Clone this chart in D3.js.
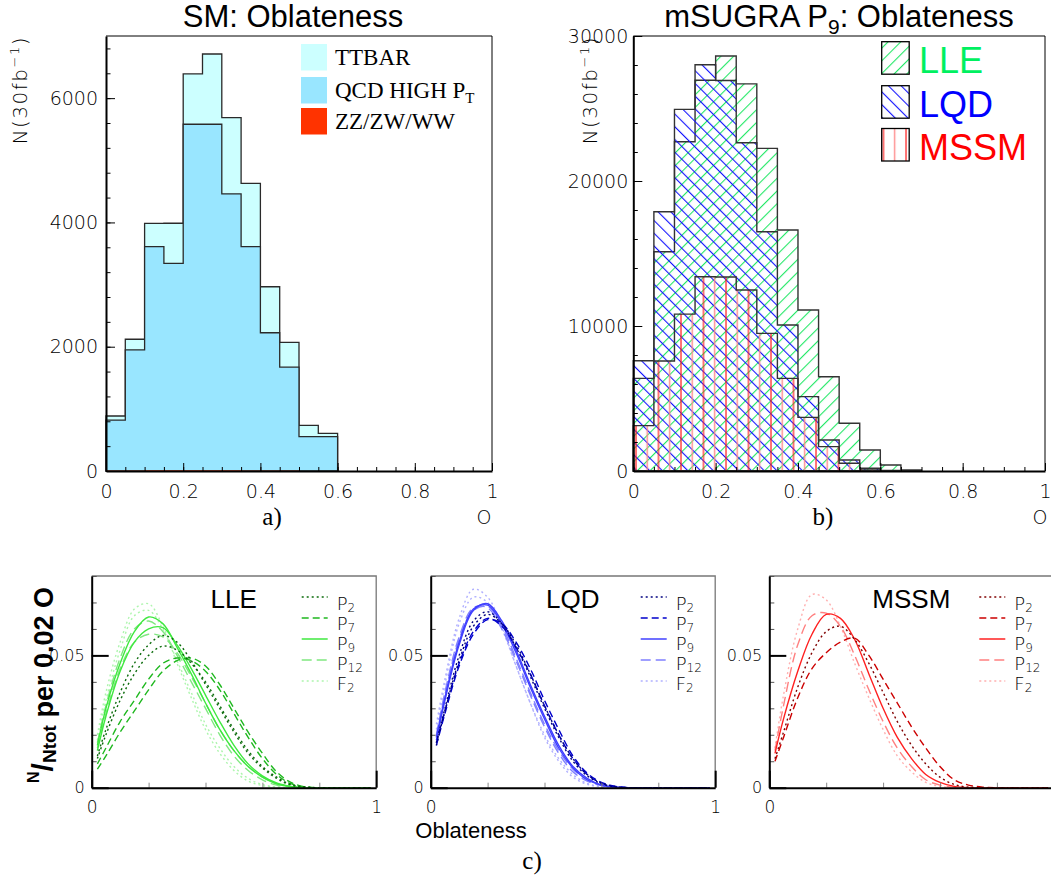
<!DOCTYPE html>
<html><head><meta charset="utf-8">
<script src="https://cdn.jsdelivr.net/npm/d3@7"></script>
<style>body{margin:0;background:#fff} svg{display:block}</style>
</head><body>
<svg id="c" width="1051" height="888"></svg>
<script>
// ---------------- DATA ----------------
const binLow = [0,0.05,0.1,0.15,0.2,0.25,0.3,0.35,0.4,0.45,0.5,0.55,0.6,0.65,0.7,0.75,0.8,0.85,0.9,0.95];
// a) SM stacked histogram (events per 30 fb^-1)
const smZZ    = [3,5,8,8,10,10,8,6,4,3,1,1,0,0,0,0,0,0,0,0];
const smQCD   = [817,1945,3602,3334,5570,5570,4452,3604,2221,1667,551,551,0,0,0,0,0,0,0,0];
const smTTBAR = [65,170,375,645,810,1130,1225,1020,740,400,183,54,0,0,0,0,0,0,0,0];
const smKeys  = ["ZZ/ZW/WW","QCD HIGH P","TTBAR"];
// b) mSUGRA P9 histograms
const lleHist  = [6390,15120,22710,26950,28620,26700,22250,16620,11100,6500,3290,1450,414,69,0,0,0,0,0,0];
const lqdHist  = [7600,17880,24940,28020,26930,22640,16500,10070,5130,2140,760,185,40,0,0,0,0,0,0,0];
const mssmHist = [3130,7590,10820,13400,13380,12480,9490,6390,3700,1680,530,130,25,0,0,0,0,0,0,0];
// tick labels
const tlYTicks = [0,2000,4000,6000];
const trYTicks = [0,10000,20000,30000];
const topXTicks = [0,0.2,0.4,0.6,0.8,1];
const botYTicks = [0,0.05];
const botXTicks = [0,1];
// c) normalised oblateness distributions
const oblX = [0.02,0.05,0.1,0.15,0.2,0.25,0.3,0.35,0.4,0.45,0.5,0.55,0.6,0.65,0.7,0.75,0.8,0.9,0.98];
const lleP2a  = [0.012,0.022,0.036,0.047,0.054,0.0575,0.055,0.048,0.039,0.030,0.021,0.013,0.0075,0.0035,0.001,0.0002,0,0,0];
const lleP2b  = [0.011,0.020,0.033,0.043,0.050,0.0535,0.052,0.047,0.040,0.031,0.022,0.014,0.008,0.004,0.0012,0.0003,0,0,0];
const lleP7a  = [0.007,0.012,0.021,0.029,0.037,0.044,0.048,0.049,0.046,0.039,0.030,0.021,0.013,0.006,0.002,0.0003,0,0,0];
const lleP7b  = [0.009,0.015,0.025,0.033,0.041,0.047,0.049,0.048,0.044,0.037,0.028,0.019,0.011,0.005,0.0015,0.0002,0,0,0];
const lleP9a  = [0.016,0.030,0.047,0.059,0.0645,0.062,0.053,0.043,0.032,0.022,0.014,0.008,0.004,0.0015,0.0004,0,0,0,0];
const lleP9b  = [0.014,0.027,0.044,0.055,0.060,0.0605,0.054,0.045,0.035,0.025,0.016,0.009,0.0045,0.0018,0.0005,0,0,0,0];
const lleP12a = [0.017,0.031,0.049,0.060,0.063,0.059,0.050,0.040,0.030,0.020,0.012,0.0065,0.003,0.001,0.0002,0,0,0,0];
const lleP12b = [0.015,0.028,0.045,0.055,0.058,0.057,0.051,0.042,0.032,0.022,0.014,0.008,0.004,0.0015,0.0003,0,0,0,0];
const lleF2a  = [0.020,0.036,0.055,0.0675,0.0695,0.061,0.047,0.034,0.022,0.013,0.0065,0.0025,0.0008,0.0002,0,0,0,0,0];
const lleF2b  = [0.018,0.033,0.052,0.065,0.067,0.060,0.048,0.036,0.024,0.015,0.008,0.0035,0.0012,0.0003,0,0,0,0,0];
const lqdP2a  = [0.017,0.030,0.050,0.063,0.0665,0.062,0.053,0.042,0.030,0.019,0.010,0.0045,0.0015,0.0003,0,0,0,0,0];
const lqdP2b  = [0.016,0.029,0.048,0.061,0.0655,0.062,0.054,0.043,0.031,0.020,0.011,0.005,0.0018,0.0004,0,0,0,0,0];
const lqdP7a  = [0.016,0.028,0.046,0.058,0.0635,0.062,0.055,0.045,0.033,0.022,0.012,0.0055,0.002,0.0005,0,0,0,0,0];
const lqdP7b  = [0.017,0.029,0.047,0.059,0.064,0.061,0.053,0.043,0.031,0.020,0.011,0.005,0.0017,0.0004,0,0,0,0,0];
const lqdP9a  = [0.018,0.033,0.054,0.067,0.0695,0.063,0.052,0.039,0.027,0.016,0.008,0.0035,0.001,0.0002,0,0,0,0,0];
const lqdP9b  = [0.019,0.034,0.055,0.0675,0.069,0.062,0.051,0.038,0.026,0.015,0.0075,0.003,0.001,0.0002,0,0,0,0,0];
const lqdP12a = [0.020,0.036,0.057,0.068,0.068,0.060,0.048,0.035,0.023,0.013,0.006,0.0025,0.0008,0.0001,0,0,0,0,0];
const lqdP12b = [0.019,0.035,0.056,0.067,0.0685,0.061,0.049,0.036,0.024,0.014,0.007,0.003,0.001,0.0002,0,0,0,0,0];
const lqdF2a  = [0.024,0.041,0.064,0.075,0.072,0.061,0.046,0.032,0.019,0.010,0.004,0.0013,0.0003,0,0,0,0,0,0];
const lqdF2b  = [0.022,0.039,0.062,0.072,0.070,0.060,0.046,0.032,0.020,0.011,0.005,0.0016,0.0004,0,0,0,0,0,0];
const mssmP2  = [0.011,0.021,0.038,0.051,0.059,0.061,0.056,0.047,0.036,0.025,0.016,0.009,0.004,0.0012,0.0002,0,0,0,0];
const mssmP7  = [0.010,0.019,0.034,0.045,0.051,0.055,0.0565,0.050,0.041,0.032,0.023,0.015,0.008,0.003,0.001,0.0002,0,0,0];
const mssmP9  = [0.013,0.026,0.044,0.058,0.0655,0.064,0.056,0.043,0.030,0.019,0.011,0.005,0.002,0.0005,0,0,0,0,0];
const mssmP12 = [0.014,0.031,0.054,0.065,0.066,0.061,0.050,0.037,0.025,0.015,0.008,0.003,0.001,0.0002,0,0,0,0,0];
const mssmF2  = [0.015,0.035,0.060,0.073,0.071,0.061,0.047,0.034,0.022,0.012,0.006,0.002,0.0005,0,0,0,0,0,0];
const seriesNames = ["P2","P7","P9","P12","F2"];

// ---------------- STYLE ----------------
const svg = d3.select('#c');
const defs = svg.append('defs');
const TICKFONT = '"DejaVu Sans ExtraLight","DejaVu Sans",sans-serif';
const SANS = '"Liberation Sans",Arial,sans-serif';
const SERIF = '"Liberation Serif","Times New Roman",serif';
const binW = binLow[1]-binLow[0];
const W = 1051;

function hatch(id, color, angle, sp){
  const p = defs.append('pattern').attr('id',id).attr('patternUnits','userSpaceOnUse')
    .attr('width',sp).attr('height',sp).attr('patternTransform',`rotate(${angle})`);
  p.append('line').attr('x1',0.5).attr('x2',0.5).attr('y1',-1).attr('y2',sp+1)
    .attr('stroke',color).attr('stroke-width',1.2);
}
hatch('hLLE','#22e866',45,9);
hatch('hLQD','#1212ff',-45,9);
(function(){
  const p = defs.append('pattern').attr('id','hMSSM').attr('patternUnits','userSpaceOnUse')
    .attr('width',22.5).attr('height',10).attr('x',5);
  p.append('line').attr('x1',1).attr('x2',1).attr('y1',0).attr('y2',10).attr('stroke','#ff1a1a').attr('stroke-width',1.2);
  p.append('line').attr('x1',12.2).attr('x2',12.2).attr('y1',0).attr('y2',10).attr('stroke','#ff8a8a').attr('stroke-width',1.4);
})();

function styleTicks(g, size){
  g.selectAll('text').attr('font-family',TICKFONT).attr('font-weight',200).attr('font-size',size).attr('fill','#000');
  g.selectAll('.tick line').attr('stroke','#000');
}

function topAxes(x, y, yTicks, yMinorStep, yPad){
  const [x0,x1] = x.range(), [y0,y1] = y.range();
  svg.append('g').attr('transform',`translate(${x0},0)`)
    .call(d3.axisLeft(y).tickValues(d3.range(0, y.domain()[1]+1, yMinorStep)).tickFormat('').tickSizeInner(-4.5).tickSizeOuter(0))
    .call(g=>{g.select('.domain').remove(); g.selectAll('line').attr('stroke','#000');});
  svg.append('g').attr('transform',`translate(0,${y0})`)
    .call(d3.axisBottom(x).tickValues(binLow.concat([1])).tickFormat('').tickSizeInner(-4).tickSizeOuter(0))
    .call(g=>{g.select('.domain').remove(); g.selectAll('line').attr('stroke','#000');});
  const gy = svg.append('g').attr('transform',`translate(${x0},0)`)
    .call(d3.axisLeft(y).tickValues(yTicks).tickFormat(d3.format('d')).tickSizeInner(-9).tickSizeOuter(0).tickPadding(yPad));
  gy.select('.domain').attr('stroke','#000').attr('stroke-width',2);
  styleTicks(gy, 19);
  const gx = svg.append('g').attr('transform',`translate(0,${y0})`)
    .call(d3.axisBottom(x).tickValues(topXTicks).tickFormat(d=>String(d)).tickSizeInner(-8).tickSizeOuter(0).tickPadding(14));
  gx.select('.domain').attr('stroke','#000').attr('stroke-width',2);
  styleTicks(gx, 19);
  svg.append('path').attr('d',`M${x0},${y1}H${x1}V${y0}`).attr('fill','none').attr('stroke','#000').attr('stroke-width',1);
}

function histArea(x, y){
  return d3.area().x(d=>x(d[0])).y0(y(0)).y1(d=>y(d[1])).curve(d3.curveStepAfter);
}
function stepPts(vals){
  let n = vals.length; while(n>0 && vals[n-1]<=0) n--;
  const pts = vals.slice(0,n).map((v,i)=>[binLow[i],v]);
  pts.push([binLow[n-1]+binW, vals[n-1]]);
  return pts;
}

function yTitle(xb, yEnd){
  const t = svg.append('text').attr('transform',`translate(${xb},${yEnd}) rotate(-90)`)
    .attr('text-anchor','end').attr('font-family',TICKFONT).attr('font-weight',200)
    .attr('font-size',20).attr('fill','#000').attr('letter-spacing',1.5);
  t.append('tspan').text('N(30fb');
  t.append('tspan').attr('dy',-8).attr('font-size',13).text('−1');
  t.append('tspan').attr('dy',8).text(')');
}

// ================= a) SM =================
{
  const x = d3.scaleLinear([0,1],[106,492]);
  const y = d3.scaleLinear([0,7000],[471,36]);
  const rows = binLow.map((b,i)=>({"ZZ/ZW/WW":smZZ[i],"QCD HIGH P":smQCD[i],"TTBAR":smTTBAR[i]}));
  const stack = d3.stack().keys(smKeys)(rows);
  const fills = {"TTBAR":"#ccffff","QCD HIGH P":"#99e6ff","ZZ/ZW/WW":"#ff3300"};
  const area = histArea(x,y);
  for (let k = stack.length-1; k>=0; k--){
    const cum = stack[k].map(d=>d[1]);
    svg.append('path').attr('d',area(stepPts(cum))).attr('fill',fills[smKeys[k]])
      .attr('stroke', k===0 ? 'none' : '#2a2a2a').attr('stroke-width',1.3);
  }
  topAxes(x,y,tlYTicks,400,8);
  svg.append('text').attr('x',293).attr('y',27).attr('text-anchor','middle')
    .attr('font-family',SANS).attr('font-size',31).attr('fill','#000').text('SM: Oblateness');
  yTitle(27,36);
  const leg = [["TTBAR","TTBAR"],["QCD HIGH P","QCD HIGH P"],["ZZ/ZW/WW","ZZ/ZW/WW"]];
  const ly = [44,77,108];
  leg.forEach((l,i)=>{
    svg.append('rect').attr('x',301).attr('y',ly[i]).attr('width',26).attr('height',26.5).attr('fill',fills[l[0]]);
    const t = svg.append('text').attr('x',335).attr('y',ly[i]+21).attr('font-family',SERIF).attr('font-size',23).attr('fill','#000');
    t.append('tspan').text(l[1]);
    if (i===1) t.append('tspan').attr('dy',5).attr('font-size',15).text('T');
  });
  svg.append('text').attr('x',272).attr('y',525).attr('text-anchor','middle').attr('font-family',SERIF).attr('font-size',25).text('a)');
  svg.append('text').attr('x',484).attr('y',524).attr('text-anchor','middle').attr('font-family',TICKFONT).attr('font-weight',200).attr('font-size',19).attr('fill','#000').text('O');
}

// ================= b) mSUGRA P9 =================
{
  const x = d3.scaleLinear([0,1],[633.3,1045]);
  const y = d3.scaleLinear([0,30000],[471,36]);
  const area = histArea(x,y);
  [[lleHist,'hLLE'],[lqdHist,'hLQD'],[mssmHist,'hMSSM']].forEach(([h,p])=>{
    svg.append('path').attr('d',area(stepPts(h))).attr('fill',`url(#${p})`).attr('stroke','#333').attr('stroke-width',1.4);
  });
  topAxes(x,y,trYTicks,2000,5);
  const t = svg.append('text').attr('x',839).attr('y',27).attr('text-anchor','middle')
    .attr('font-family',SANS).attr('font-size',31).attr('fill','#000');
  t.append('tspan').text('mSUGRA P');
  t.append('tspan').attr('dy',7).attr('font-size',21).text('9');
  t.append('tspan').attr('dy',-7).text(': Oblateness');
  yTitle(597,36);
  const leg = [['LLE','hLLE','#00f060'],['LQD','hLQD','#0000ff'],['MSSM','hMSSM','#ff0000']];
  const ly = [41.7,85.7,128.5];
  leg.forEach((l,i)=>{
    svg.append('rect').attr('x',881.7).attr('y',ly[i]).attr('width',27.5).attr('height',32.5)
      .attr('fill',`url(#${l[1]})`).attr('stroke','#000').attr('stroke-width',1.3);
    svg.append('text').attr('x',919).attr('y',ly[i]+31.5).attr('font-family',SANS).attr('font-size',36).attr('fill',l[2]).text(l[0]);
  });
  svg.append('text').attr('x',823).attr('y',525).attr('text-anchor','middle').attr('font-family',SERIF).attr('font-size',25).text('b)');
  svg.append('text').attr('x',1040).attr('y',524).attr('text-anchor','middle').attr('font-family',TICKFONT).attr('font-weight',200).attr('font-size',19).attr('fill','#000').text('O');
}

// ================= c) normalised curves =================
const dashes = ["2,3","7,4",null,"10,5","2,3"];
const panels = [
  {name:'LLE', left:91.7, colors:['#0a6b0a','#1fb81f','#3fe83f','#80e880','#adf5ad'],
   curves:[[lleP2a,lleP2b],[lleP7a,lleP7b],[lleP9a,lleP9b],[lleP12a,lleP12b],[lleF2a,lleF2b]]},
  {name:'LQD', left:430.7, colors:['#000080','#0000cc','#4040ff','#8080ff','#b0b0ff'],
   curves:[[lqdP2a,lqdP2b],[lqdP7a,lqdP7b],[lqdP9a,lqdP9b],[lqdP12a,lqdP12b],[lqdF2a,lqdF2b]]},
  {name:'MSSM', left:769.3, colors:['#800000','#cc0000','#ff2020','#ff8080','#ffb0b0'],
   curves:[[mssmP2],[mssmP7],[mssmP9],[mssmP12],[mssmF2]]}
];
panels.forEach((P,pi)=>{
  const x = d3.scaleLinear([0,1],[P.left,P.left+284.5]);
  const y = d3.scaleLinear([0,0.08],[787.7,576]);
  const cid = 'clip'+pi;
  defs.append('clipPath').attr('id',cid).append('rect').attr('x',P.left).attr('y',576).attr('width',284.5).attr('height',211.7);
  const line = d3.line().x((d,i)=>x(oblX[i])).y(d=>y(d)).curve(d3.curveCatmullRom.alpha(0.5));
  const g = svg.append('g').attr('clip-path',`url(#${cid})`);
  for (let s = P.curves.length-1; s>=0; s--){
    P.curves[s].forEach(c=>{
      g.append('path').attr('d',line(c)).attr('fill','none').attr('stroke',P.colors[s])
        .attr('stroke-width',1.4).attr('stroke-dasharray',dashes[s]);
    });
  }
  svg.append('path').attr('d',`M${x(0)},${y(0.08)}H${x(1)}V${y(0)}`).attr('fill','none').attr('stroke','#777').attr('stroke-width',1.3);
  svg.append('g').attr('transform',`translate(${x(0)},0)`)
    .call(d3.axisLeft(y).tickValues(d3.range(0.01,0.08,0.01)).tickFormat('').tickSizeInner(-5).tickSizeOuter(0))
    .call(g=>{g.select('.domain').remove(); g.selectAll('line').attr('stroke','#555');});
  svg.append('g').attr('transform',`translate(0,${y(0)})`)
    .call(d3.axisBottom(x).tickValues([0.2,0.4,0.6,0.8]).tickFormat('').tickSizeInner(-5).tickSizeOuter(0))
    .call(g=>{g.select('.domain').remove(); g.selectAll('line').attr('stroke','#888');});
  const gy = svg.append('g').attr('transform',`translate(${x(0)},0)`)
    .call(d3.axisLeft(y).tickValues(botYTicks).tickFormat(d=>d===0?'0':String(d)).tickSizeInner(-17).tickSizeOuter(0).tickPadding(7));
  gy.select('.domain').attr('stroke','#000').attr('stroke-width',2);
  styleTicks(gy,16); gy.selectAll('line').attr('stroke-width',2);
  const gx = svg.append('g').attr('transform',`translate(0,${y(0)})`)
    .call(d3.axisBottom(x).tickValues(botXTicks).tickFormat(d=> x(d) > W-8 ? '' : String(d)).tickSizeInner(-17).tickSizeOuter(0).tickPadding(13));
  gx.select('.domain').attr('stroke','#000').attr('stroke-width',2);
  styleTicks(gx,17); gx.selectAll('line').attr('stroke-width',2);
  svg.append('text').attr('x',P.left+142).attr('y',608).attr('text-anchor','middle')
    .attr('font-family',SANS).attr('font-size',26).attr('fill','#000').text(P.name);
  seriesNames.forEach((n,i)=>{
    const ly = 597+21*i;
    svg.append('line').attr('x1',P.left+210).attr('x2',P.left+236).attr('y1',ly).attr('y2',ly)
      .attr('stroke',P.colors[i]).attr('stroke-width',1.5).attr('stroke-dasharray',dashes[i]);
    const t = svg.append('text').attr('x',P.left+245).attr('y',610+20*i).attr('font-family',TICKFONT)
      .attr('font-weight',200).attr('font-size',18).attr('fill','#000');
    t.append('tspan').text(n[0]);
    t.append('tspan').attr('dy',2).attr('font-size',12).text(n.slice(1));
  });
});
{
  const t = svg.append('text').attr('transform','translate(53,783) rotate(-90)')
    .attr('font-family',SANS).attr('font-weight','bold').attr('font-size',27).attr('fill','#000');
  t.append('tspan').attr('dy',-14).attr('font-size',16).text('N');
  t.append('tspan').attr('dy',14).attr('font-size',30).text('/');
  t.append('tspan').attr('dy',3).attr('font-size',19).text('Ntot');
  t.append('tspan').attr('dy',-3).text(' per 0.02 O');
}
svg.append('text').attr('x',471).attr('y',838).attr('text-anchor','middle').attr('font-family',SANS).attr('font-size',22).text('Oblateness');
svg.append('text').attr('x',532).attr('y',869).attr('text-anchor','middle').attr('font-family',SERIF).attr('font-size',25).text('c)');
</script>
</body></html>
